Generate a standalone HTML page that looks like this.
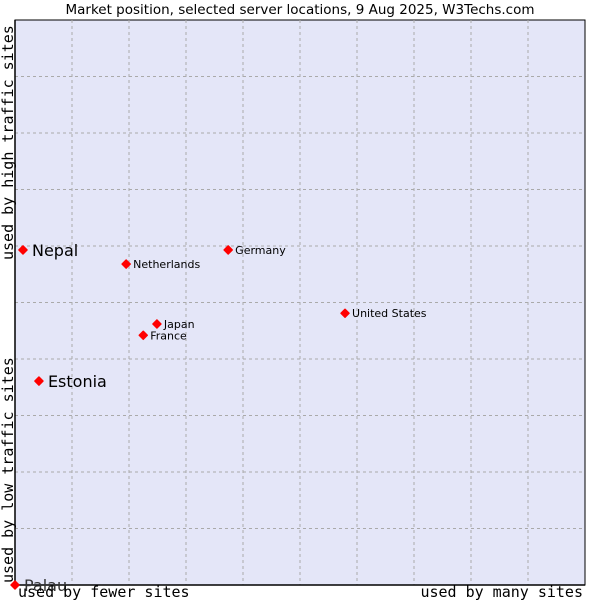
<!DOCTYPE html>
<html><head><meta charset="utf-8"><style>
body{margin:0;background:#fff;}
svg{display:block;font-family:"DejaVu Sans","Liberation Sans",sans-serif;}
</style></head><body>
<svg id="c" width="600" height="600">
<rect x="0" y="0" width="600" height="600" fill="#fff"/>
<text x="300" y="14" text-anchor="middle" font-size="13.5" fill="#000">Market position, selected server locations, 9 Aug 2025, W3Techs.com</text>
<rect x="15" y="20" width="570" height="565" fill="#e4e6f8" stroke="#000" stroke-width="1"/>
<g id="grid"></g>
<line x1="15" y1="20" x2="15" y2="586" stroke="#000" stroke-width="1.5"/>
<line x1="14" y1="585" x2="585" y2="585" stroke="#000" stroke-width="1.5"/>
<g id="pts"></g>
<text x="18" y="597" font-family="'DejaVu Sans Mono','Liberation Mono',monospace" font-size="15">used by fewer sites</text>
<text x="583" y="597" text-anchor="end" font-family="'DejaVu Sans Mono','Liberation Mono',monospace" font-size="15">used by many sites</text>
<text transform="translate(13,583) rotate(-90)" font-family="'DejaVu Sans Mono','Liberation Mono',monospace" font-size="15">used by low traffic sites</text>
<text transform="translate(13,260) rotate(-90)" font-family="'DejaVu Sans Mono','Liberation Mono',monospace" font-size="15">used by high traffic sites</text>
</svg>
<script>
const names=["Nepal","Estonia","Palau","Netherlands","Germany","Japan","France","United States"];
const xVals=[1.4,4.2,0,19.5,37.4,24.9,22.5,57.9];
const yVals=[59.3,36.1,0,56.8,59.3,46.2,44.2,48.1];
const bigLabel=[true,true,true,false,false,false,false,false];
const L=15,R=585,T=20,B=585;
function sx(v){return L+v/100*(R-L);}
function sy(v){return B-v/100*(B-T);}
const ns="http://www.w3.org/2000/svg";
const g=document.getElementById('grid');
for(let i=1;i<10;i++){
 const x=L+i*57;
 const l=document.createElementNS(ns,'line');
 l.setAttribute('x1',x);l.setAttribute('x2',x);l.setAttribute('y1',T);l.setAttribute('y2',B);
 l.setAttribute('stroke','#aaa');l.setAttribute('stroke-dasharray','3,3');
 
 
 g.appendChild(l);
 const y=B-i*56.5;
 const h=document.createElementNS(ns,'line');
 h.setAttribute('x1',L);h.setAttribute('x2',R);h.setAttribute('y1',y);h.setAttribute('y2',y);
 h.setAttribute('stroke','#aaa');h.setAttribute('stroke-dasharray','3,3');
 
 
 g.appendChild(h);
}
const p=document.getElementById('pts');
names.forEach((n,i)=>{
 const x=sx(xVals[i]),y=sy(yVals[i]);
 const d=document.createElementNS(ns,'path');
 d.setAttribute('d',`M${x-4},${y}L${x},${y-4}L${x+4},${y}L${x},${y+4}Z`);
 d.setAttribute('fill','#f00');d.setAttribute('stroke','#f00');d.setAttribute('stroke-width','1.5');d.setAttribute('stroke-linejoin','round');
 
 
 p.appendChild(d);
 const t=document.createElementNS(ns,'text');
 const big=bigLabel[i];
 t.setAttribute('x',x+(big?9:7));t.setAttribute('y',y+(big?6:4));
 t.setAttribute('font-size',big?16:11);
 t.setAttribute('fill',n==="Palau"?'#333':'#000');
 t.textContent=n;
 
 
 p.appendChild(t);
});
</script>
</body></html>
